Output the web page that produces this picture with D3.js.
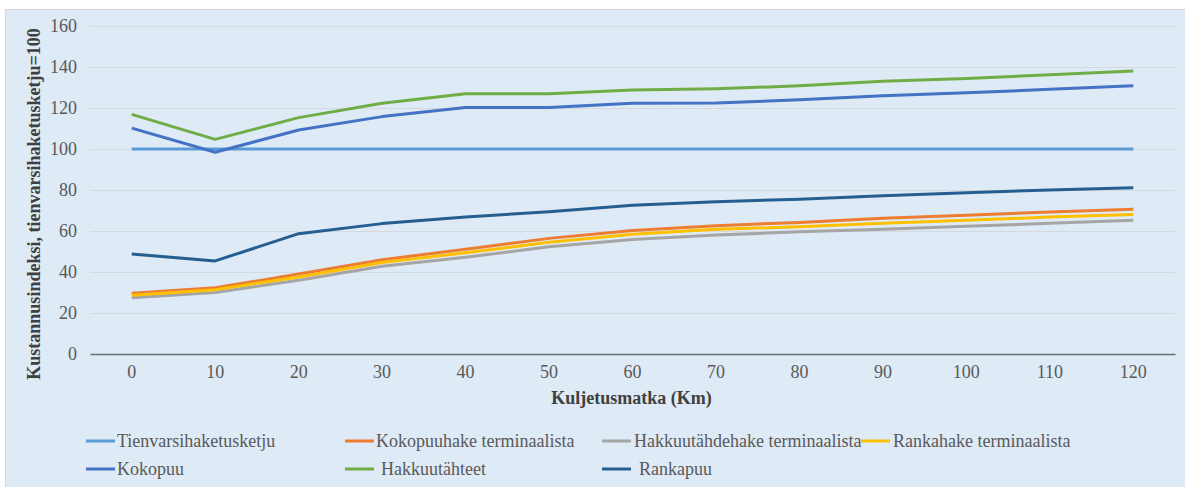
<!DOCTYPE html>
<html>
<head>
<meta charset="utf-8">
<script src="https://cdn.jsdelivr.net/npm/d3@7"></script>
<style>
  html, body { margin: 0; padding: 0; background: #ffffff; }
  svg { display: block; }
  svg text { font-family: "Liberation Serif", "Times New Roman", Times, "DejaVu Serif", serif !important; }
</style>
</head>
<body>
<svg id="chart" width="1185" height="487"></svg>
<script>
// Transport distance (km)
const distances = [0, 10, 20, 30, 40, 50, 60, 70, 80, 90, 100, 110, 120];
const yTicks = [0, 20, 40, 60, 80, 100, 120, 140, 160];

const seriesNames = [
  "Tienvarsihaketusketju",
  "Kokopuuhake terminaalista",
  "Hakkuutähdehake terminaalista",
  "Rankahake terminaalista",
  "Kokopuu",
  "Hakkuutähteet",
  "Rankapuu"
];

// Cost index per chain, roadside chipping = 100
const tienvarsihaketusketju = [100, 100, 100, 100, 100, 100, 100, 100, 100, 100, 100, 100, 100];
const kokopuuhakeTerminaalista = [29.6, 32.3, 39.0, 46.0, 51.1, 56.4, 60.2, 62.6, 64.2, 66.2, 67.7, 69.3, 70.6];
const hakkuutahdehakeTerminaalista = [27.4, 30.0, 36.0, 42.8, 47.2, 52.3, 55.9, 58.0, 59.6, 60.9, 62.3, 63.8, 65.2];
const rankahakeTerminaalista = [28.6, 31.4, 37.6, 44.6, 49.4, 54.5, 58.4, 60.8, 62.1, 63.8, 65.2, 66.8, 68.1];
const kokopuu = [110.2, 98.4, 109.3, 115.8, 120.3, 120.3, 122.3, 122.4, 124.0, 126.0, 127.4, 129.1, 130.8];
const hakkuutahteet = [116.9, 104.7, 115.3, 122.3, 127.0, 127.0, 128.8, 129.4, 130.8, 133.1, 134.4, 136.2, 138.0];
const rankapuu = [48.8, 45.4, 58.7, 63.6, 66.8, 69.4, 72.6, 74.3, 75.5, 77.2, 78.7, 80.0, 81.1];

const seriesValues = [
  tienvarsihaketusketju,
  kokopuuhakeTerminaalista,
  hakkuutahdehakeTerminaalista,
  rankahakeTerminaalista,
  kokopuu,
  hakkuutahteet,
  rankapuu
];
const seriesColors = ["#5b9bd5", "#ed7d31", "#a5a5a5", "#ffc000", "#4472c4", "#70ad47", "#255e91"];

const FONT = "'Liberation Serif', 'Times New Roman', Times, serif";
const svg = d3.select("#chart");

// chart area background
svg.append("rect")
  .attr("x", 5.5).attr("y", 9.5)
  .attr("width", 1185).attr("height", 487)
  .attr("fill", "#deeaf6")
  .attr("stroke", "#d9d9d9");

const plot = { left: 90, right: 1175, top: 26, bottom: 354 };

const x = d3.scaleBand()
  .domain(distances)
  .range([plot.left, plot.right]);

const y = d3.scaleLinear()
  .domain([0, 160])
  .range([plot.bottom, plot.top]);

// horizontal gridlines
svg.append("g")
  .selectAll("line")
  .data(yTicks.filter(d => d > 0))
  .join("line")
  .attr("x1", plot.left).attr("x2", plot.right)
  .attr("y1", d => Math.round(y(d)) + 0.5)
  .attr("y2", d => Math.round(y(d)) + 0.5)
  .attr("stroke", "#d5d9dd")
  .attr("stroke-width", 1);

// y axis labels
const yAxis = d3.axisLeft(y).tickValues(yTicks).tickSize(0).tickPadding(13);
const gy = svg.append("g")
  .attr("transform", `translate(${plot.left},0)`)
  .call(yAxis)
  .attr("font-family", FONT)
  .attr("font-size", 18);
gy.select(".domain").remove();
gy.selectAll("text").attr("fill", "#595959");

// x axis
const xAxis = d3.axisBottom(x).tickSize(0).tickPadding(11);
const gx = svg.append("g")
  .attr("transform", `translate(0,${plot.bottom})`)
  .call(xAxis)
  .attr("font-family", FONT)
  .attr("font-size", 18);
gx.select(".domain")
  .attr("stroke", "#6e6e6e")
  .attr("stroke-width", 1.3);
gx.selectAll("text").attr("fill", "#595959");

// series lines
const line = d3.line()
  .x((d, i) => x(distances[i]) + x.bandwidth() / 2)
  .y(d => y(d));

svg.append("g")
  .selectAll("path")
  .data(seriesValues)
  .join("path")
  .attr("d", d => line(d))
  .attr("fill", "none")
  .attr("stroke", (d, i) => seriesColors[i])
  .attr("stroke-width", 3)
  .attr("stroke-linejoin", "round");

// axis titles
svg.append("text")
  .attr("x", (plot.left + plot.right) / 2 - 1)
  .attr("y", 404)
  .attr("text-anchor", "middle")
  .attr("fill", "#404040")
  .attr("font-family", FONT)
  .attr("font-size", 18)
  .attr("font-weight", "bold")
  .text("Kuljetusmatka (Km)");

svg.append("text")
  .attr("transform", "translate(40,204) rotate(-90)")
  .attr("text-anchor", "middle")
  .attr("fill", "#404040")
  .attr("font-family", FONT)
  .attr("font-size", 18)
  .attr("font-weight", "bold")
  .text("Kustannusindeksi, tienvarsihaketusketju=100");

// legend
const legendPos = [
  { sx: 86, tx: 117, y: 441 },
  { sx: 345, tx: 376, y: 441 },
  { sx: 602, tx: 634, y: 441 },
  { sx: 861, tx: 893, y: 441 },
  { sx: 86, tx: 117, y: 469 },
  { sx: 345, tx: 381, y: 469 },
  { sx: 602, tx: 639, y: 469 }
];
const legend = svg.append("g")
  .attr("font-family", FONT)
  .attr("font-size", 18)
  .selectAll("g")
  .data(seriesNames)
  .join("g");
legend.append("line")
  .attr("x1", (d, i) => legendPos[i].sx)
  .attr("x2", (d, i) => legendPos[i].sx + 29)
  .attr("y1", (d, i) => legendPos[i].y)
  .attr("y2", (d, i) => legendPos[i].y)
  .attr("stroke", (d, i) => seriesColors[i])
  .attr("stroke-width", 3);
legend.append("text")
  .attr("x", (d, i) => legendPos[i].tx)
  .attr("y", (d, i) => legendPos[i].y)
  .attr("dy", "0.35em")
  .attr("fill", "#595959")
  .text(d => d);
</script>
</body>
</html>
